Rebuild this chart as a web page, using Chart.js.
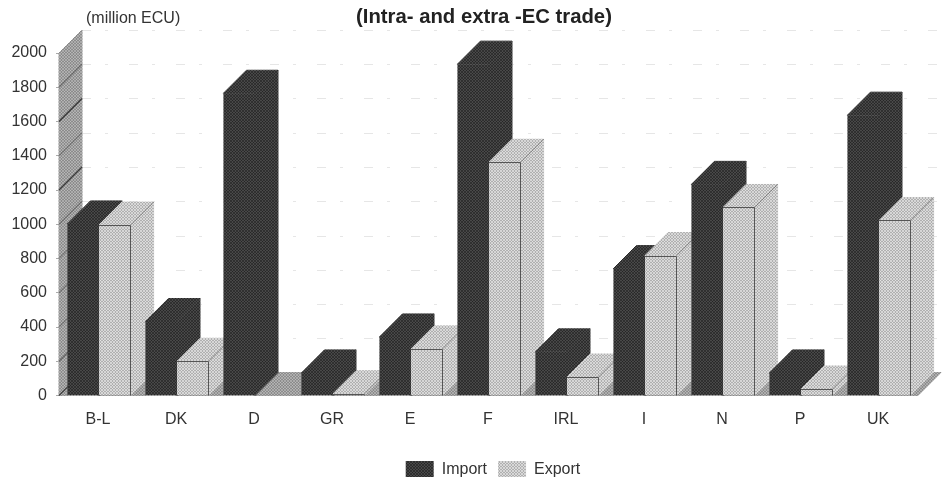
<!DOCTYPE html>
<html>
<head>
<meta charset="utf-8">
<style>html,body{margin:0;padding:0;background:#fff}canvas{display:block}</style>
<script src="https://cdn.jsdelivr.net/npm/chart.js@4"></script>
</head>
<body>
<canvas id="c" width="949" height="477"></canvas>
<script>
const categories = ['B-L','DK','D','GR','E','F','IRL','I','N','P','UK'];
const importValues = [1002,432,1765,132,342,1935,255,741,1233,132,1637];
const exportValues = [995,200,0,10,272,1362,108,817,1098,38,1022];
const yTicks = [0,200,400,600,800,1000,1200,1400,1600,1800,2000];
const wallLineAlpha = {200:.5,400:.3,600:.35,800:.3,1000:.35,1200:.85,1400:.3,1600:.9,1800:.4,2000:0,0:.8};

const FONT = '"Liberation Sans", Arial, sans-serif';
const DEPTH = 23;

function tile(rows){
  const n = rows.length, cv = document.createElement('canvas');
  cv.width = cv.height = n;
  const g = cv.getContext('2d');
  rows.forEach((r,y)=>r.forEach((v,x)=>{g.fillStyle=`rgb(${v},${v},${v})`;g.fillRect(x,y,1,1);}));
  return g.createPattern(cv,'repeat');
}
const ctx0 = document.getElementById('c').getContext('2d');
const darkFill = tile([[48,72,48],[72,36,72],[48,72,48]]);
const lightFill = tile([[214,176,214],[176,228,176],[214,176,214]]);
const wallFill = tile([[170,140,170],[140,190,140],[170,140,170]]);

function poly(ctx, pts, fill){
  ctx.beginPath();
  pts.forEach((p,i)=>i?ctx.lineTo(p[0],p[1]):ctx.moveTo(p[0],p[1]));
  ctx.closePath();
  ctx.fillStyle = fill; ctx.fill();
  ctx.strokeStyle = fill; ctx.lineWidth = 1; ctx.stroke();
}

const depthPlugin = {
  id:'depth',
  afterLayout(chart){
    chart.titleBlock.left += 25; chart.titleBlock.right += 25;
    chart.legend.left += 34; chart.legend.right += 34;
  },
  beforeDatasetsDraw(chart){
    const {ctx, chartArea:a, scales:{y}} = chart;
    const l=a.left-1, r=a.right, b=y.getPixelForValue(0), t=y.getPixelForValue(2000);
    ctx.save();
    yTicks.forEach(v=>{
      if(v===0) return;
      const py=Math.round(y.getPixelForValue(v)-DEPTH)+.5;
      ctx.strokeStyle='#e6e6e6'; ctx.lineWidth=1; ctx.setLineDash([9,14,3,21]);
      ctx.beginPath(); ctx.moveTo(l+DEPTH,py); ctx.lineTo(r+DEPTH,py); ctx.stroke();
    });
    ctx.setLineDash([]);
    poly(ctx,[[l,b],[l,t],[l+DEPTH,t-DEPTH],[l+DEPTH,b-DEPTH]],wallFill);
    poly(ctx,[[l,b],[l+DEPTH,b-DEPTH],[r+DEPTH,b-DEPTH],[r,b]],wallFill);
    yTicks.forEach(v=>{
      const py=y.getPixelForValue(v);
      ctx.strokeStyle=`rgba(40,40,40,${wallLineAlpha[v]})`; ctx.lineWidth=1.2;
      ctx.beginPath(); ctx.moveTo(l,py); ctx.lineTo(l+DEPTH,py-DEPTH); ctx.stroke();
    });
    const m0=chart.getDatasetMeta(0).data, m1=chart.getDatasetMeta(1).data;
    categories.forEach((c,i)=>{
      [[m0[i],importValues[i],darkFill,false],[m1[i],exportValues[i],lightFill,true]].forEach(([bar,val,fill,edge])=>{
        if(!val) return;
        const x0=bar.x-bar.width/2, x1=bar.x+bar.width/2, yt=bar.y;
        poly(ctx,[[x1,b],[x1,yt],[x1+DEPTH,yt-DEPTH],[x1+DEPTH,b-DEPTH]],fill);
        poly(ctx,[[x0,yt],[x0+DEPTH,yt-DEPTH],[x1+DEPTH,yt-DEPTH],[x1,yt]],fill);
        if(edge){
          ctx.strokeStyle='rgba(60,60,60,.45)'; ctx.lineWidth=1;
          ctx.beginPath(); ctx.moveTo(x1,yt); ctx.lineTo(x1+DEPTH,yt-DEPTH); ctx.stroke();
        }
      });
    });
    ctx.restore();
  },
  afterDatasetsDraw(chart){
    const {ctx, scales:{y}} = chart;
    const b=y.getPixelForValue(0);
    ctx.save();
    chart.getDatasetMeta(1).data.forEach((bar,i)=>{
      if(!exportValues[i]) return;
      const x0=bar.x-bar.width/2, x1=Math.round(bar.x+bar.width/2)-.5, yt=Math.round(bar.y)+.5;
      ctx.strokeStyle='#555'; ctx.lineWidth=1;
      ctx.beginPath(); ctx.moveTo(x0,yt); ctx.lineTo(x1,yt); ctx.lineTo(x1,b); ctx.stroke();
    });
    ctx.restore();
  },
  afterDraw(chart){
    const {ctx} = chart;
    ctx.save();
    ctx.font='16px '+FONT; ctx.fillStyle='#333'; ctx.textAlign='left'; ctx.textBaseline='middle';
    ctx.fillText('(million ECU)',86,19);
    ctx.restore();
  }
};

new Chart(document.getElementById('c'),{
  type:'bar',
  plugins:[depthPlugin],
  data:{
    labels:categories,
    datasets:[
      {label:'Import',data:importValues,backgroundColor:darkFill,borderWidth:0,categoryPercentage:.81,barPercentage:1},
      {label:'Export',data:exportValues,backgroundColor:lightFill,borderWidth:0,categoryPercentage:.81,barPercentage:1}
    ]
  },
  options:{
    responsive:false,
    animation:false,
    devicePixelRatio:1,
    layout:{padding:{left:0,right:31,top:0,bottom:-11}},
    plugins:{
      tooltip:{enabled:false},
      title:{display:true,text:'(Intra- and extra -EC trade)',color:'#222',
        font:{family:FONT,size:20.3,weight:'bold'},padding:{top:5,bottom:23.64}},
      legend:{position:'bottom',
        labels:{boxWidth:28,boxHeight:17,padding:11,color:'#333',font:{family:FONT,size:16}}}
    },
    scales:{
      x:{
        grid:{display:false},border:{display:false},
        ticks:{color:'#333',font:{family:FONT,size:16},padding:6.5,maxRotation:0,autoSkip:false,labelOffset:-1},
        afterFit(s){s.height=54.5;}
      },
      y:{
        min:0,max:2000,
        afterBuildTicks(s){s.ticks=yTicks.map(v=>({value:v}));},
        grid:{drawOnChartArea:false,color:'#aaa',tickLength:4},border:{display:false},
        ticks:{color:'#333',font:{family:FONT,size:16},padding:9,callback:v=>String(v)},
        afterFit(s){s.width=60;}
      }
    }
  }
});
</script>
</body>
</html>
